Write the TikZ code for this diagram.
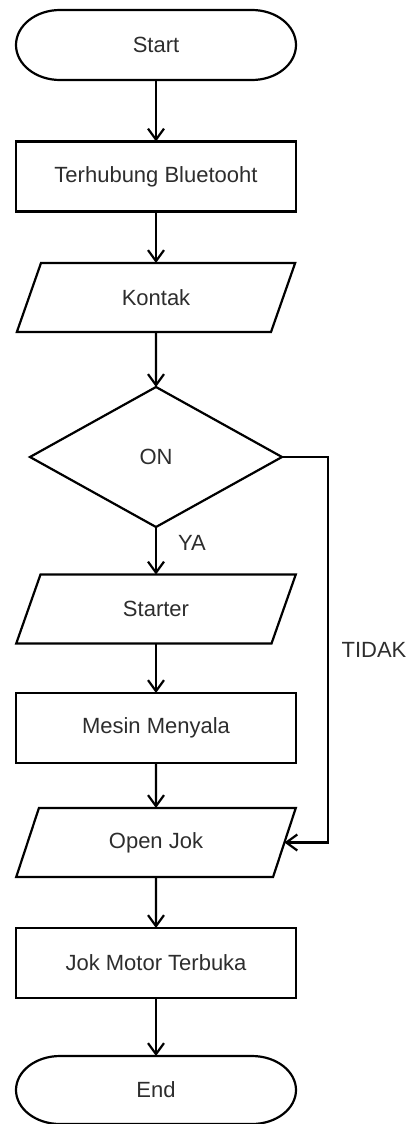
\documentclass[tikz,border=0pt]{standalone}
\usepackage{fontspec}
\setmainfont{Liberation Sans}
\usetikzlibrary{shapes.geometric,arrows.meta}
\definecolor{txt}{RGB}{45,45,45}
\begin{document}
\begin{tikzpicture}[x=1pt,y=1pt,
  base/.style={line width=2.2pt,inner sep=0pt,outer sep=0pt,text=txt,
    font=\fontsize{22}{26}\selectfont},
  procbox/.style={base,draw,rectangle,minimum width=280pt,minimum height=70pt},
  iobox/.style={base,draw,trapezium,trapezium left angle=66,trapezium right angle=114,
    trapezium stretches=true,minimum width=280pt,minimum height=69pt},
  decbox/.style={base,draw,diamond,minimum width=252pt,minimum height=140pt},
  termbox/.style={base,rectangle,minimum width=280pt,minimum height=70pt},
  arr/.style={line width=2.2pt,-{Straight Barb[length=11pt,width=16pt]}},
  lbl/.style={text=txt,font=\fontsize{22}{26}\selectfont,inner sep=0pt}
]
\useasboundingbox (0,0) rectangle (410,-1124);
\node[termbox] (start) at (156,-45) {Start};
\node[procbox] (bt) at (156,-176.5) {Terhubung Bluetooht};
\node[iobox] (kontak) at (156,-297.5) {Kontak};
\node[decbox] (on) at (156,-457) {ON};
\node[iobox] (starter) at (156,-609) {Starter};
\node[procbox] (mesin) at (156,-728) {Mesin Menyala};
\node[iobox] (open) at (156,-842.5) {Open Jok};
\node[procbox] (jok) at (156,-963) {Jok Motor Terbuka};
\node[termbox,minimum height=68pt] (end) at (156,-1090) {End};
% terminator outlines (elliptical ends)
\foreach \n/\ry in {start/35,end/34}{
  \draw[line width=2.2pt] ([xshift=44pt]\n.north west) -- ([xshift=-44pt]\n.north east)
    arc[start angle=90,end angle=-90,x radius=44pt,y radius=\ry pt]
    -- ([xshift=44pt]\n.south west)
    arc[start angle=270,end angle=90,x radius=44pt,y radius=\ry pt] -- cycle;
}
\draw[arr] (start) -- (bt);
\draw[arr] (bt) -- (kontak);
\draw[arr] (kontak) -- (on);
\draw[arr] (on) -- (starter);
\draw[arr] (starter) -- (mesin);
\draw[arr] (mesin) -- (open);
\draw[arr] (open) -- (jok);
\draw[arr] (jok) -- (end);
\draw[arr] (on.east) -- ++(46pt,0) |- (open.east);
\node[lbl] (ya) at (192,-543) {YA};
\node[lbl] (tidak) at (374,-650) {TIDAK};
\end{tikzpicture}
\end{document}
